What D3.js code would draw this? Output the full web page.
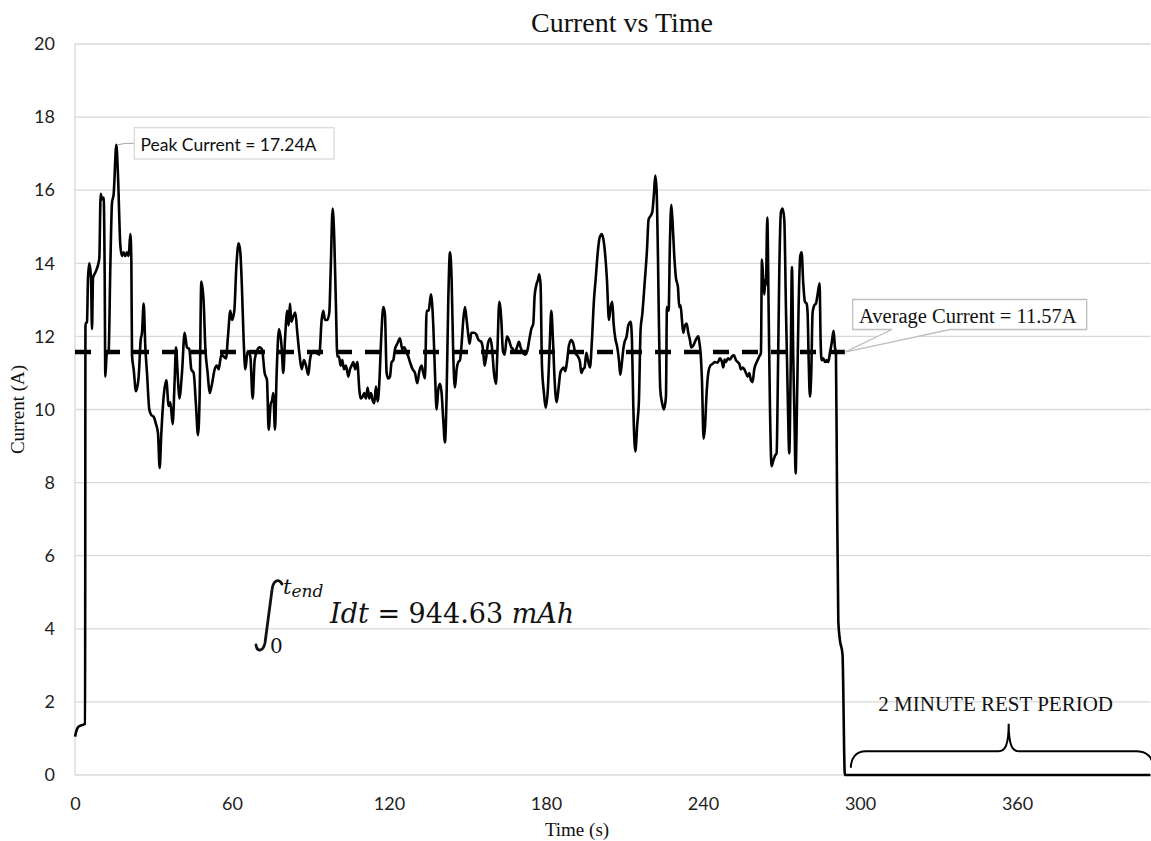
<!DOCTYPE html>
<html>
<head>
<meta charset="utf-8">
<script src="https://cdn.jsdelivr.net/npm/d3@7"></script>
<style>
  body { margin: 0; background: #fff; }
  svg { display: block; }
</style>
</head>
<body>
<div id="chart"></div>
<script>
// measured current trace (s, A)
const timeS = [
  0, 0.6, 1.3, 3.85, 4.0, 4.2, 4.59, 4.97, 5.48, 6.11, 6.5, 6.88, 7.77, 8.79, 9.3, 9.81, 10.32, 10.95, 11.34, 11.59,
  12.1, 12.86, 13.5, 14.14, 14.78, 15.79, 16.43, 17.32, 17.96, 18.6, 19.23, 19.87, 20.51, 21.14, 21.53, 21.78, 22.42, 23.31, 24.33, 25.09,
  25.6, 26.24, 26.88, 27.51, 28.4, 29.17, 30.06, 30.95, 31.72, 32.35, 32.99, 33.88, 34.9, 35.79, 36.43, 37.32, 38.08, 38.59, 39.36, 39.87,
  40.88, 41.9, 42.79, 43.69, 44.45, 45.34, 46.24, 47.0, 47.64, 48.27, 49.16, 49.8, 50.69, 51.46, 52.35, 53.37, 54.26, 54.9, 55.92, 56.81,
  57.7, 58.46, 59.35, 59.99, 60.88, 61.65, 62.54, 63.18, 63.81, 64.45, 65.09, 65.98, 67.0, 67.89, 68.65, 69.54, 70.44, 71.46, 72.47, 73.37,
  74.0, 74.9, 75.15, 75.78, 76.42, 77.06, 77.95, 78.97, 79.6, 80.24, 81.13, 81.64, 82.15, 82.66, 83.43, 84.19, 84.95, 85.72, 86.61, 87.5,
  88.27, 89.16, 89.79, 90.43, 91.32, 92.34, 93.36, 94.25, 94.89, 95.53, 96.42, 97.18, 97.69, 98.46, 99.09, 99.73, 100.24, 100.88, 101.51, 102.15,
  102.79, 103.55, 104.44, 105.08, 105.72, 106.35, 107.12, 107.88, 108.65, 109.15, 109.92, 110.55, 111.19, 111.83, 112.47, 113.1, 113.74, 114.38, 115.01, 115.65,
  116.29, 116.92, 117.82, 118.45, 119.09, 119.73, 120.36, 121.0, 121.64, 122.27, 123.17, 124.18, 125.08, 125.84, 126.73, 127.37, 128.0, 129.02, 129.92, 130.81,
  131.57, 132.46, 133.1, 133.74, 134.37, 135.14, 136.03, 136.92, 137.56, 138.2, 138.83, 139.47, 140.1, 140.74, 141.38, 142.02, 142.65, 143.29, 143.93, 144.56,
  145.2, 145.84, 146.47, 147.11, 147.75, 148.38, 149.02, 149.66, 150.55, 150.81, 151.44, 152.46, 153.35, 154.25, 155.26, 155.9, 156.54, 157.18, 157.81, 158.7,
  159.34, 160.1, 160.87, 161.38, 162.14, 162.91, 163.54, 164.18, 165.07, 165.84, 166.73, 167.36, 168.0, 168.89, 169.66, 170.29, 171.18, 172.08, 172.84, 173.6,
  174.37, 175.13, 175.64, 176.28, 176.92, 177.43, 177.93, 178.45, 179.21, 179.85, 180.74, 181.38, 182.01, 182.65, 183.29, 184.05, 184.81, 185.45, 186.09, 186.72,
  187.36, 188.0, 188.76, 189.65, 190.42, 191.18, 192.2, 192.97, 193.48, 194.11, 194.75, 195.39, 196.02, 196.79, 197.55, 198.32, 198.95, 199.84, 200.48, 201.37,
  202.14, 202.65, 203.28, 204.05, 204.68, 205.32, 205.83, 206.47, 207.23, 207.87, 208.38, 209.02, 209.53, 210.03, 210.8, 211.44, 212.33, 212.84, 213.35, 214.11,
  214.87, 215.51, 216.15, 216.78, 217.68, 218.57, 219.2, 219.97, 220.6, 221.24, 221.75, 222.26, 222.77, 223.15, 223.66, 224.3, 225.06, 225.83, 226.21, 226.85,
  227.36, 227.87, 228.38, 229.01, 229.65, 230.42, 230.92, 231.43, 231.94, 232.45, 233.09, 233.73, 234.36, 235.0, 235.51, 236.27, 236.91, 237.55, 238.18, 238.57,
  239.07, 239.59, 240.22, 240.73, 241.37, 242.0, 242.77, 243.66, 244.55, 245.57, 246.46, 247.23, 247.74, 248.25, 248.76, 249.52, 250.28, 251.05, 251.81, 252.58,
  253.21, 253.85, 254.49, 255.12, 255.76, 256.4, 257.03, 257.67, 258.31, 258.95, 259.58, 260.22, 260.86, 261.49, 262.13, 262.51, 263.02, 263.4, 263.79, 264.04,
  264.55, 265.06, 265.57, 266.21, 266.84, 267.61, 268.12, 268.63, 269.14, 269.77, 270.41, 271.05, 271.68, 272.32, 272.96, 273.47, 273.98, 274.48, 274.99, 275.38,
  275.89, 276.52, 277.16, 277.67, 278.3, 278.94, 279.58, 279.96, 280.34, 280.85, 281.36, 281.87, 282.51, 283.15, 283.78, 284.55, 284.93, 285.31, 285.95, 286.59,
  287.22, 287.86, 288.5, 289.13, 289.9, 290.41, 290.79, 291.17, 291.7, 292.3, 293.3, 294.2, 411
];
const currentA = [
  1.05, 1.22, 1.32, 1.4, 12.36, 12.36, 12.4, 13.6, 14.0, 13.6, 12.2, 13.6, 13.75, 13.95, 14.15, 15.9, 15.75, 15.8, 13.7, 10.9,
  11.5, 11.6, 13.9, 15.65, 15.9, 17.24, 16.4, 14.5, 14.2, 14.3, 14.2, 14.3, 14.2, 14.8, 14.1, 11.5, 11.1, 10.5, 10.9, 11.9,
  12.1, 12.9, 11.7, 11.0, 10.0, 9.85, 9.8, 9.6, 9.35, 8.4, 9.35, 10.35, 10.8, 10.1, 10.2, 9.6, 10.8, 11.7, 10.8, 10.3,
  11.0, 12.1, 11.7, 11.65, 11.1, 11.0, 10.1, 9.3, 10.4, 13.5, 12.95, 11.7, 11.0, 10.45, 10.7, 11.1, 11.2, 11.1, 11.5, 11.45,
  11.4, 12.0, 12.7, 12.45, 12.7, 13.9, 14.55, 14.3, 13.3, 11.9, 11.1, 11.6, 11.45, 10.3, 11.35, 11.6, 11.7, 11.65, 11.0, 10.8,
  9.45, 10.2, 10.2, 10.45, 9.45, 11.0, 12.2, 11.7, 11.0, 11.9, 12.7, 12.3, 12.9, 12.4, 12.55, 12.65, 12.1, 11.55, 11.1, 11.35,
  11.2, 10.95, 11.35, 11.55, 11.6, 11.55, 11.5, 12.45, 12.7, 12.45, 12.45, 12.65, 13.75, 15.5, 14.65, 12.8, 11.45, 11.45, 11.2, 11.35,
  11.1, 11.2, 10.9, 11.1, 11.2, 11.3, 11.1, 11.3, 10.55, 10.3, 10.35, 10.45, 10.3, 10.6, 10.3, 10.45, 10.25, 10.17, 10.63, 10.22,
  10.72, 11.8, 12.8, 12.6, 11.0, 10.85, 10.9, 11.3, 11.35, 11.65, 11.8, 11.95, 11.65, 11.7, 11.55, 11.45, 11.3, 11.1, 11.0, 10.72,
  11.04, 11.2, 11.0, 10.85, 12.7, 12.7, 13.15, 12.3, 11.0, 10.0, 10.55, 10.7, 10.45, 9.7, 9.1, 10.45, 13.0, 14.3, 13.55, 11.45,
  10.6, 11.1, 11.3, 11.35, 11.8, 12.45, 12.8, 12.45, 11.9, 11.8, 12.1, 12.1, 12.05, 11.9, 11.85, 11.65, 11.2, 11.45, 11.8, 11.95,
  11.7, 11.0, 10.7, 11.5, 12.95, 12.45, 11.6, 11.5, 12.0, 11.9, 11.7, 11.65, 11.55, 11.7, 11.85, 11.7, 11.55, 11.5, 11.6, 11.9,
  12.2, 12.35, 13.1, 13.4, 13.55, 13.7, 13.4, 11.2, 10.45, 10.05, 10.6, 11.7, 12.7, 11.9, 10.8, 10.2, 10.6, 11.0, 11.1, 11.15,
  11.05, 11.3, 11.75, 11.9, 11.8, 11.55, 11.45, 11.3, 11.0, 11.1, 11.15, 11.55, 11.35, 11.15, 11.9, 13.0, 13.55, 14.35, 14.7, 14.8,
  14.55, 14.2, 13.55, 12.45, 12.8, 12.95, 12.35, 11.95, 11.7, 11.35, 10.95, 11.3, 11.65, 11.85, 12.0, 12.3, 12.4, 11.9, 10.1, 8.85,
  9.6, 10.25, 12.2, 12.6, 13.45, 14.35, 15.2, 15.3, 15.4, 15.9, 16.4, 16.0, 14.2, 12.35, 10.55, 10.2, 10.0, 10.35, 12.8, 12.7,
  14.6, 15.6, 15.1, 14.2, 13.6, 13.35, 12.8, 12.85, 12.45, 12.1, 12.3, 12.35, 12.1, 11.9, 11.7, 11.75, 11.85, 11.95, 12.0, 11.85,
  11.55, 10.8, 9.2, 9.5, 10.45, 11.0, 11.2, 11.25, 11.3, 11.28, 11.4, 11.3, 11.15, 11.37, 11.3, 11.4, 11.37, 11.45, 11.48, 11.35,
  11.3, 11.25, 11.1, 11.15, 11.1, 11.0, 10.9, 11.0, 10.8, 10.75, 11.1, 11.25, 11.35, 11.45, 11.55, 14.1, 13.55, 13.15, 13.55, 13.4,
  15.25, 12.8, 10.1, 8.45, 8.6, 8.75, 8.8, 11.0, 13.75, 15.4, 15.5, 15.2, 12.8, 10.55, 8.8, 11.0, 13.9, 11.45, 9.6, 8.25,
  10.1, 12.8, 14.2, 14.3, 13.45, 12.95, 12.9, 12.65, 11.45, 10.35, 11.0, 12.65, 12.85, 12.9, 13.15, 13.45, 11.9, 11.35, 11.4, 11.3,
  11.35, 11.3, 11.55, 11.8, 12.15, 11.7, 11.55, 8.1, 4.2, 3.7, 3.3, 0, 0
];

const xTicks = [0, 60, 120, 180, 240, 300, 360];
const yTicks = [0, 2, 4, 6, 8, 10, 12, 14, 16, 18, 20];

const averageCurrent = 11.57;
const averageEnd = 294.2;
const peakTime = 15.79;
const peakCurrent = 17.24;
const restStart = 296.5;
const restEnd = 411;

const width = 1151;
const height = 841;
const margin = { top: 44, right: 0.5, bottom: 66, left: 75 };

const svg = d3.select("#chart")
  .append("svg")
  .attr("width", width)
  .attr("height", height);

const x = d3.scaleLinear().domain([0, 411]).range([margin.left, width - margin.right]);
const y = d3.scaleLinear().domain([0, 20]).range([height - margin.bottom, margin.top]);

// gridlines
svg.append("g")
  .selectAll("line")
  .data(yTicks)
  .join("line")
  .attr("x1", x(0))
  .attr("x2", x(411))
  .attr("y1", (d) => y(d))
  .attr("y2", (d) => y(d))
  .attr("stroke", "#d9d9d9")
  .attr("stroke-width", 1.3);

// left axis line
svg.append("line")
  .attr("x1", x(0)).attr("x2", x(0))
  .attr("y1", y(0)).attr("y2", y(20))
  .attr("stroke", "#d9d9d9")
  .attr("stroke-width", 1.3);

// tick labels
const xAxis = svg.append("g")
  .attr("transform", `translate(0, ${y(0)})`)
  .call(d3.axisBottom(x).tickValues(xTicks).tickSize(0).tickPadding(22));
xAxis.select(".domain").remove();
xAxis.selectAll("text")
  .style("font-family", "Lato, sans-serif")
  .style("font-size", "18px")
  .attr("fill", "#1e1e1e");

const yAxis = svg.append("g")
  .attr("transform", `translate(${x(0)}, 0)`)
  .call(d3.axisLeft(y).tickValues(yTicks).tickSize(0).tickPadding(20));
yAxis.select(".domain").remove();
yAxis.selectAll("text")
  .style("font-family", "Lato, sans-serif")
  .style("font-size", "18px")
  .attr("fill", "#1e1e1e");

// titles
svg.append("text")
  .attr("x", 622)
  .attr("y", 32)
  .attr("text-anchor", "middle")
  .style("font-family", "'Liberation Serif', 'Times New Roman', serif")
  .style("font-size", "28px")
  .attr("fill", "#111")
  .text("Current vs Time");

svg.append("text")
  .attr("x", 577)
  .attr("y", 836)
  .attr("text-anchor", "middle")
  .style("font-family", "'Liberation Serif', 'Times New Roman', serif")
  .style("font-size", "19px")
  .attr("fill", "#111")
  .text("Time (s)");

svg.append("text")
  .attr("transform", `translate(24, ${y(10)}) rotate(-90)`)
  .attr("text-anchor", "middle")
  .style("font-family", "'Liberation Serif', 'Times New Roman', serif")
  .style("font-size", "19px")
  .attr("fill", "#111")
  .text("Current (A)");

// average dashed line
svg.append("line")
  .attr("x1", x(0))
  .attr("x2", x(averageEnd))
  .attr("y1", y(averageCurrent))
  .attr("y2", y(averageCurrent))
  .attr("stroke", "#000")
  .attr("stroke-width", 4.5)
  .attr("stroke-dasharray", "16,13");

// current trace
const data = timeS.map((t, i) => ({ t: t, v: currentA[i] }));
const line = d3.line()
  .x((d) => x(d.t))
  .y((d) => y(d.v))
  .curve(d3.curveMonotoneX);

svg.append("path")
  .datum(data)
  .attr("d", line)
  .attr("fill", "none")
  .attr("stroke", "#000")
  .attr("stroke-width", 2.6)
  .attr("stroke-linejoin", "round");

// peak callout
const px = x(peakTime);
const py = y(peakCurrent);
svg.append("path")
  .attr("d", `M${px + 1},${py} L${px + 9},${py - 1.5} L134.3,${py - 1.5}`)
  .attr("fill", "none")
  .attr("stroke", "#a6a6a6")
  .attr("stroke-width", 1);
svg.append("rect")
  .attr("x", 134.3)
  .attr("y", 127.7)
  .attr("width", 199.7)
  .attr("height", 31.3)
  .attr("fill", "#fff")
  .attr("stroke", "#d9d9d9")
  .attr("stroke-width", 1.3);
svg.append("text")
  .attr("x", 140.5)
  .attr("y", 151)
  .style("font-family", "Lato, sans-serif")
  .style("font-size", "17.5px")
  .attr("fill", "#111")
  .text("Peak Current = " + peakCurrent + "A");

// average callout (wedge)
const ax = x(averageEnd);
const ay = y(averageCurrent);
svg.append("path")
  .attr("d", `M852.7,299.5 H1086.7 V329.5 H950 L${ax},${ay} L892,329.5 H852.7 Z`)
  .attr("fill", "#fff")
  .attr("stroke", "#bfbfbf")
  .attr("stroke-width", 1.3);
svg.append("text")
  .attr("x", 859)
  .attr("y", 322.5)
  .style("font-family", "'Liberation Serif', 'Times New Roman', serif")
  .style("font-size", "20.5px")
  .attr("fill", "#111")
  .text("Average Current = " + averageCurrent + "A");

// integral annotation
svg.append("path")
  .attr("d", "M256,645 C257,652 263,652 265,643 L272,590 C273,580 279,578 282,584")
  .attr("fill", "none")
  .attr("stroke", "#111")
  .attr("stroke-width", 2.8)
  .attr("stroke-linecap", "round");
const mathFont = "'DejaVu Serif', 'Liberation Serif', serif";
svg.append("text")
  .attr("x", 283)
  .attr("y", 594)
  .style("font-family", mathFont)
  .style("font-style", "italic")
  .style("font-size", "21px")
  .attr("fill", "#111")
  .text("t")
  .append("tspan")
  .attr("dy", 3)
  .style("font-size", "17px")
  .text("end");
svg.append("text")
  .attr("x", 270)
  .attr("y", 653)
  .style("font-family", mathFont)
  .style("font-size", "20px")
  .attr("fill", "#111")
  .text("0");
const eq = svg.append("text")
  .attr("x", 330)
  .attr("y", 623)
  .style("font-family", mathFont)
  .style("font-size", "27px")
  .attr("fill", "#111");
eq.append("tspan").style("font-style", "italic").text("Idt");
eq.append("tspan").text(" = 944.63 ");
eq.append("tspan").style("font-style", "italic").text("mAh");

// rest period brace
const bx0 = x(restStart);
const bx1 = x(restEnd);
const bm = (bx0 + bx1) / 2 + 8;
const by = y(0.65);
const bt = y(1.4);
svg.append("path")
  .attr("d", `M${bx0},${y(0.2)} C${bx0},${by + 7} ${bx0 + 5},${by} ${bx0 + 15},${by}
    L${bm - 10},${by} C${bm - 4},${by} ${bm},${by - 5} ${bm},${bt}
    C${bm},${by - 5} ${bm + 4},${by} ${bm + 10},${by}
    L${bx1 - 14},${by} C${bx1 - 5},${by} ${bx1},${by + 5} ${bx1 + 1},${y(0.4)}`)
  .attr("fill", "none")
  .attr("stroke", "#000")
  .attr("stroke-width", 2);
svg.append("text")
  .attr("x", bm - 13)
  .attr("y", 710.5)
  .attr("text-anchor", "middle")
  .style("font-family", "'Liberation Serif', 'Times New Roman', serif")
  .style("font-size", "21px")
  .attr("fill", "#111")
  .text("2 MINUTE REST PERIOD");
</script>
</body>
</html>
